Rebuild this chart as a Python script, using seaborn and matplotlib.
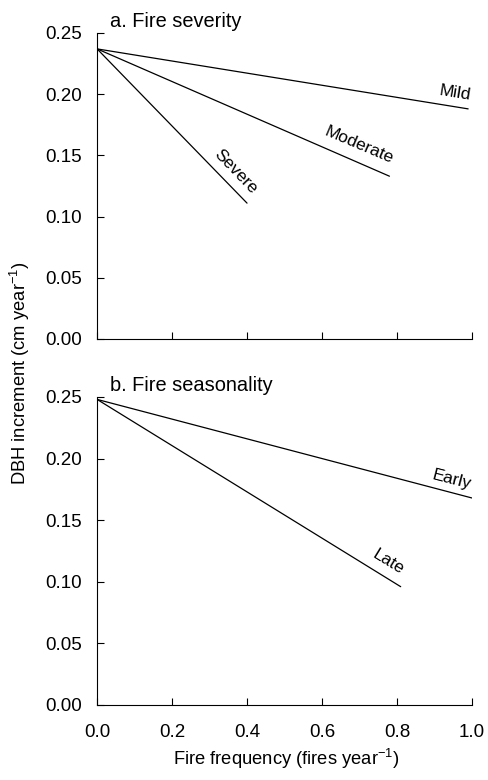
import matplotlib
matplotlib.use("Agg")
import matplotlib.pyplot as plt
import seaborn as sns
import pandas as pd

sns.set_theme(style="ticks")
plt.rcParams['font.family'] = ['Liberation Sans', 'DejaVu Sans']
plt.rcParams['mathtext.fontset'] = 'custom'
plt.rcParams['mathtext.rm'] = 'Liberation Sans'
plt.rcParams['mathtext.it'] = 'Liberation Sans'
plt.rcParams['text.color'] = 'black'
plt.rcParams['axes.labelcolor'] = 'black'
plt.rcParams['xtick.color'] = 'black'
plt.rcParams['ytick.color'] = 'black'

# Panel a: fire severity (straight lines, start and end points)
sev_names = ["Mild", "Mild", "Moderate", "Moderate", "Severe", "Severe"]
sev_x = [0.0, 0.99, 0.0, 0.78, 0.0, 0.40]
sev_y = [0.237, 0.188, 0.237, 0.133, 0.237, 0.111]

# Panel b: fire seasonality
sea_names = ["Early", "Early", "Late", "Late"]
sea_x = [0.0, 1.0, 0.0, 0.81]
sea_y = [0.248, 0.168, 0.248, 0.096]

yticks = [0.00, 0.05, 0.10, 0.15, 0.20, 0.25]
xticks = [0.0, 0.2, 0.4, 0.6, 0.8, 1.0]

df_a = pd.DataFrame({"x": sev_x, "y": sev_y, "g": sev_names})
df_b = pd.DataFrame({"x": sea_x, "y": sea_y, "g": sea_names})

fig = plt.figure(figsize=(4.88, 7.8), dpi=100)
ax1 = fig.add_axes([0.199, 0.5654, 0.768, 0.3923])
ax2 = fig.add_axes([0.199, 0.0962, 0.768, 0.3949])

tfs = 13.5
for ax, df in [(ax1, df_a), (ax2, df_b)]:
    sns.lineplot(data=df, x="x", y="y", hue="g", palette=["black"] * df["g"].nunique(),
                 ax=ax, legend=False, linewidth=0.9, estimator=None, sort=False)
    ax.set_xlim(0, 1.0)
    ax.set_ylim(0, 0.25)
    ax.set_xticks(xticks)
    ax.set_yticks(yticks)
    ax.set_yticklabels([f"{v:.2f}" for v in yticks], fontsize=tfs)
    ax.tick_params(direction="in", length=5, width=0.8, color="black")
    ax.tick_params(axis="y", pad=11)
    ax.tick_params(axis="x", pad=14)
    for s in ["top", "right"]:
        ax.spines[s].set_visible(False)
    for s in ["left", "bottom"]:
        ax.spines[s].set_color("black")
        ax.spines[s].set_linewidth(0.8)
    ax.set_xlabel("")
    ax.set_ylabel("")

ax1.set_xticklabels([])
ax2.set_xticklabels([f"{v:.1f}" for v in xticks], fontsize=tfs)

ax1.text(0.035, 1.005, "a. Fire severity", transform=ax1.transAxes, fontsize=14.4, va="bottom", ha="left")
ax2.text(0.035, 1.005, "b. Fire seasonality", transform=ax2.transAxes, fontsize=14.4, va="bottom", ha="left")

fs = 12.5
ax1.text(0.955, 0.201, "Mild", rotation=-9, ha="center", va="center", fontsize=fs, rotation_mode="anchor")
ax1.text(0.70, 0.158, "Moderate", rotation=-23, ha="center", va="center", fontsize=fs, rotation_mode="anchor")
ax1.text(0.37, 0.137, "Severe", rotation=-46, ha="center", va="center", fontsize=fs, rotation_mode="anchor")
ax2.text(0.947, 0.183, "Early", rotation=-14.5, ha="center", va="center", fontsize=fs, rotation_mode="anchor")
ax2.text(0.776, 0.116, "Late", rotation=-31.5, ha="center", va="center", fontsize=fs, rotation_mode="anchor")

fig.text(0.586, 0.011, "Fire frequency (fires year$^{-1}$)", ha="center", va="bottom", fontsize=13.2)
fig.text(0.041, 0.522, "DBH increment (cm year$^{-1}$)", rotation=90, ha="center", va="center", fontsize=13.2)

fig.savefig("out.png", dpi=100, facecolor="white")
